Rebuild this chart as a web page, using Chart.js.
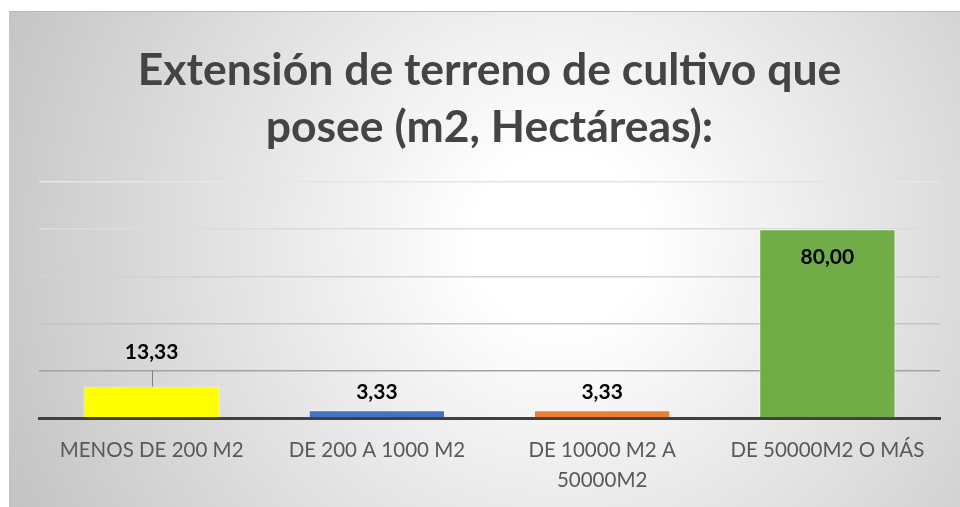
<!DOCTYPE html>
<html>
<head>
<meta charset="utf-8">
<script src="https://cdn.jsdelivr.net/npm/chart.js@4/dist/chart.umd.min.js"></script>
<style>
  html, body { margin: 0; padding: 0; background: #fff; }
  #wrap {
    position: absolute;
    left: 9px; top: 11px;
    width: 951px; height: 496px;
    box-sizing: border-box;
    border-top: 1px solid #b9b9b9;
    background: radial-gradient(circle farthest-corner at 58% 46%, #ffffff 0%, #ffffff 14%, #c3c3c3 100%);
  }
</style>
</head>
<body>
<div id="wrap"><canvas id="chart"></canvas></div>
<script>
const titleLines = ["Extensión de terreno de cultivo que", "posee (m2, Hectáreas):"];
const categories = [
  "MENOS DE 200 M2",
  "DE 200 A 1000 M2",
  ["DE 10000 M2 A", "50000M2"],
  "DE 50000M2 O MÁS",
];
const values = [13.33, 3.33, 3.33, 80.0];
const barColors = ["#ffff00", "#4472c4", "#ed7d31", "#70ad47"];
const yTicks = { min: 0, max: 100, step: 20 };

// grid lines get darker towards the bottom, like the original
const gridShades = { 0: "#404040", 20: "#a3a3a3", 40: "#c4c4c4", 60: "#d2d2d2", 80: "#dcdcdc", 100: "#e6e6e6" };

const fmt = (v) => v.toFixed(2).replace(".", ",");

// value labels: inside the top of tall bars, above short ones, one lifted with a leader line
const barLabels = {
  id: "barLabels",
  afterDatasetsDraw(chart, args, opts) {
    const ctx = chart.ctx;
    const meta = chart.getDatasetMeta(0);
    const ds = chart.data.datasets[0];
    ctx.save();
    ctx.font = "bold 21px Lato";
    ctx.fillStyle = "#000";
    ctx.textAlign = "center";
    ctx.textBaseline = "middle";
    meta.data.forEach((bar, i) => {
      const v = ds.data[i];
      let y;
      if (v > yTicks.max / 2) {
        y = bar.y + opts.inside;
      } else if (i === opts.leaderIndex) {
        y = bar.y - opts.lift;
        ctx.strokeStyle = "#7f7f7f";
        ctx.lineWidth = 1;
        ctx.beginPath();
        ctx.moveTo(Math.round(bar.x) + 0.5, y + 18);
        ctx.lineTo(Math.round(bar.x) + 0.5, bar.y);
        ctx.stroke();
      } else {
        y = bar.y - opts.above;
      }
      ctx.fillText(fmt(v), bar.x, y);
    });
    ctx.restore();
  },
};

new Chart(document.getElementById("chart"), {
  type: "bar",
  data: {
    labels: categories,
    datasets: [
      {
        data: values,
        backgroundColor: barColors,
        borderColor: "rgba(255,255,255,0.6)",
        borderWidth: 1,
        categoryPercentage: 1.0,
        barPercentage: 0.605,
      },
    ],
  },
  options: {
    responsive: true,
    maintainAspectRatio: false,
    animation: false,
    layout: { padding: { left: 30, right: 20, top: 0, bottom: 0 } },
    plugins: {
      legend: { display: false },
      tooltip: { enabled: false },
      title: {
        display: true,
        text: titleLines,
        color: "#444444",
        font: { family: "Lato", size: 44.5, weight: "bold", lineHeight: 1.28 },
        padding: { top: 30, bottom: 26 },
      },
      barLabels: { inside: 28, above: 18, leaderIndex: 0, lift: 34 },
    },
    scales: {
      x: {
        grid: { display: false },
        border: { display: true, color: "#404040", width: 3 },
        ticks: {
          color: "#595959",
          font: { family: "Lato", size: 20.5, lineHeight: 1.46 },
          padding: 9,
          maxRotation: 0,
          autoSkip: false,
        },
        afterFit(scale) {
          scale.height = 89;
        },
      },
      y: {
        min: yTicks.min,
        max: yTicks.max,
        ticks: { display: false, stepSize: yTicks.step },
        border: { display: false },
        grid: {
          drawTicks: false,
          lineWidth: 1.5,
          color: (c) => gridShades[c.tick.value] || "#d9d9d9",
        },
      },
    },
  },
  plugins: [barLabels],
});
</script>
</body>
</html>
